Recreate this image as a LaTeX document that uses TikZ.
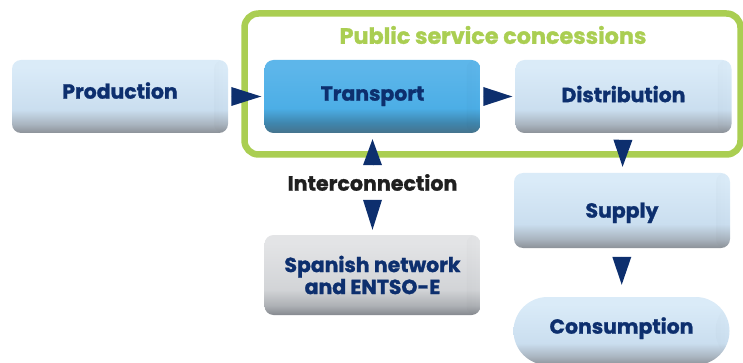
\documentclass[tikz,border=0pt]{standalone}
\usepackage{fontspec}
\newfontfamily\lbl{Poppins}[BoldFeatures={FakeBold=1.3}]
\usetikzlibrary{arrows.meta,fadings}
\definecolor{navy}{HTML}{0D2F6E}
\definecolor{greenf}{HTML}{AACE52}
\definecolor{lbTop}{HTML}{DAEBF8}
\definecolor{lbMid}{HTML}{CADEEF}
\definecolor{lbLow}{HTML}{A9B4BF}
\definecolor{lbBot}{HTML}{8C9198}
\definecolor{tTop}{HTML}{5DB6EA}
\definecolor{tMid}{HTML}{4CAEE6}
\definecolor{tLow}{HTML}{3F86AE}
\definecolor{tBot}{HTML}{46738C}
\definecolor{gTop}{HTML}{E3E4E6}
\definecolor{gMid}{HTML}{D2D4D7}
\definecolor{gLow}{HTML}{AEB1B5}
\definecolor{gBot}{HTML}{85898F}
\pgfdeclareverticalshading{lightbox}{100bp}{color(0bp)=(lbBot); color(25bp)=(lbBot); color(31bp)=(lbLow); color(41bp)=(lbMid); color(70bp)=(lbTop); color(100bp)=(lbTop)}
\pgfdeclareverticalshading{bluebox}{100bp}{color(0bp)=(tBot); color(25bp)=(tBot); color(32bp)=(tLow); color(42bp)=(tMid); color(70bp)=(tTop); color(100bp)=(tTop)}
\pgfdeclareverticalshading{graybox}{100bp}{color(0bp)=(gBot); color(25bp)=(gBot); color(31bp)=(gLow); color(41bp)=(gMid); color(70bp)=(gTop); color(100bp)=(gTop)}
\tikzset{
  boxbase/.style={rectangle, rounded corners=9pt, minimum width=216pt, minimum height=73pt,
    text=navy, align=center, font=\lbl\bfseries\fontsize{20.4}{23}\selectfont,
    text height=16pt, text depth=1.7pt,
    path picture={\fill[black, path fading=east, opacity=.22]
      ([xshift=-14pt]path picture bounding box.north east) rectangle (path picture bounding box.south east);}},
  lightbox/.style={boxbase, shade, shading=lightbox},
  bluebox/.style={boxbase, shade, shading=bluebox},
  graybox/.style={boxbase, shade, shading=graybox},
  tri/.style={draw=navy, line width=0.01pt, -{Triangle[length=#1, width=19pt, fill=navy, line width=0pt]}},
}
\begin{document}
\begin{tikzpicture}[x=1pt,y=-1pt]
\useasboundingbox (0,0) rectangle (743,363);
\clip (0,0) rectangle (743,363);
\node[draw=greenf, line width=6.5pt, rounded corners=14pt, minimum width=496pt, minimum height=141pt] (frame) at (492.5,84) {};
\node[text=greenf, font=\lbl\bfseries\fontsize{22.3}{26}\selectfont] (title) at (493,35) {Public service concessions};
\node[lightbox, text depth=11.7pt] (prod) at (120,96.5) {Production};
\node[bluebox, text depth=7.7pt] (trans) at (372.5,96.5) {Transport};
\node[lightbox, text depth=4.7pt] (dist) at (623.5,96.5) {Distribution};
\node[lightbox, minimum height=75pt] (supply) at (622,210.5) {Supply};
\node[graybox, minimum height=80pt, text height=, text depth=] (span) at (372.5,275) {Spanish network\\[-1pt]and ENTSO-E};
\node[lightbox, rounded corners=34pt, minimum height=68pt, text depth=10.7pt] (cons) at (621.5,331) {Consumption};
\node[text={black!88}, font=\lbl\bfseries\fontsize{20.6}{24}\selectfont, minimum height=35pt, inner sep=0pt] (inter) at (372.5,182.5) {Interconnection};
\draw[tri=30pt, shorten <=4pt, shorten >=3pt] (prod) -- (trans);
\draw[tri=29pt, shorten <=3pt, shorten >=3pt] (trans) -- (dist);
\draw[tri=27pt, shorten <=7pt, shorten >=6pt] (dist) -- (supply);
\draw[tri=28pt, shorten <=9pt, shorten >=12pt] (supply) -- (cons);
\draw[tri=26pt, shorten >=6pt] (inter.north) -- (trans.south);
\draw[tri=30pt, shorten >=5pt] (inter.south) -- (span.north);
\end{tikzpicture}
\end{document}
